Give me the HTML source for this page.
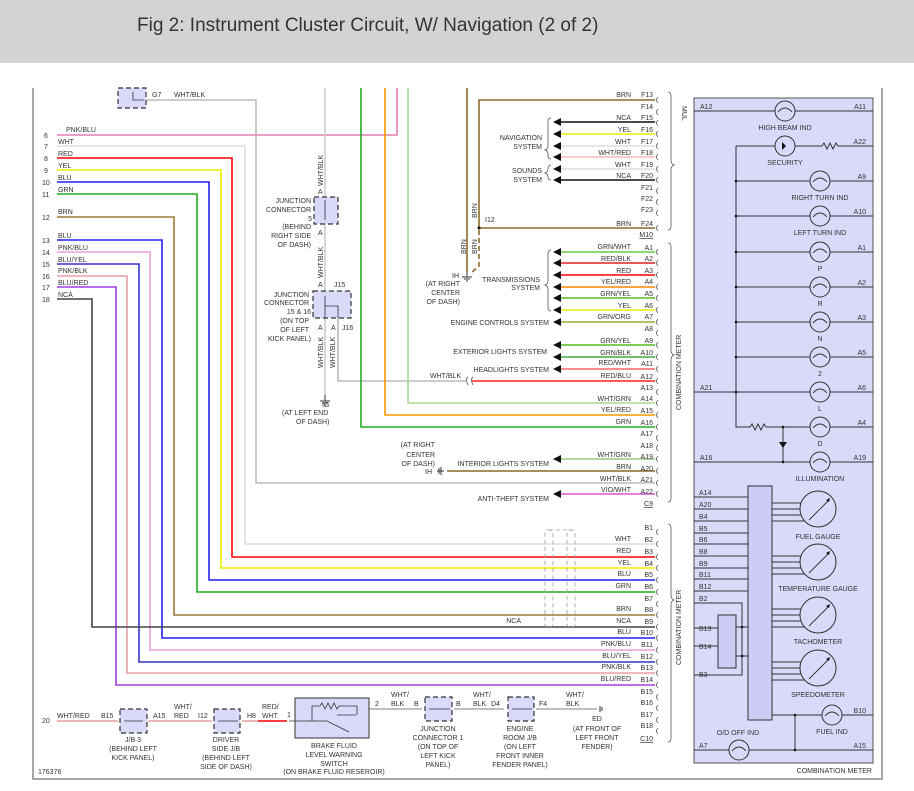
<!DOCTYPE html>
<html><head><meta charset="utf-8"><style>
html,body{margin:0;padding:0;background:#fff}
svg{display:block}
text{font-family:"Liberation Sans",sans-serif;font-size:7px;fill:#333}
.t{font-size:19px;fill:#333}
</style></head><body>
<svg width="914" height="791" viewBox="0 0 914 791" xmlns="http://www.w3.org/2000/svg">
<rect x="0" y="0" width="914" height="63" fill="#d3d3d3"/>
<text class="t" x="137" y="31">Fig 2: Instrument Cluster Circuit, W/ Navigation (2 of 2)</text>
<path d="M33 88V779H882V88" fill="none" stroke="#888" stroke-width="1.5"/>
<rect x="694" y="98" width="179" height="665" fill="#d9d9f9" stroke="#555" stroke-width="1"/>
<g fill="none" stroke-width="1.6">
<path d="M146 100H256V483H655" stroke="#bbb"/>
<path d="M57 135H397V88" stroke="#e87fb0"/>
<path d="M57 146H245V544H655" stroke="#ddd"/>
<path d="M57 158H232V557H655" stroke="#f00"/>
<path d="M57 170H221V568H655" stroke="#ee0"/>
<path d="M57 182H209V580H655" stroke="#22e"/>
<path d="M57 194H197V592H655" stroke="#2a2"/>
<path d="M57 217H174V615H655" stroke="#9a7a3a"/>
<path d="M57 240H162V638H655" stroke="#22e"/>
<path d="M57 252H150V650H655" stroke="#e8a0d8"/>
<path d="M57 264H139V662H655" stroke="#33c"/>
<path d="M57 276H127V673H655" stroke="#e8a0a8"/>
<path d="M57 287H116V685H655" stroke="#a040e0"/>
<path d="M57 299H92V627H655" stroke="#444"/>
<path d="M325 88V395" stroke="#ccc"/>
<path d="M338 318V381H466" stroke="#bbb"/>
<path d="M361 88V427H655" stroke="#2a2"/>
<path d="M385 88V415H655" stroke="#f90"/>
<path d="M408 88V403H655" stroke="#a8d890"/>
<path d="M467 88V272" stroke="#8a6a2a"/>
<path d="M479 228V100H655" stroke="#8a6a2a"/>
<path d="M479 228H655" stroke="#8a6a2a"/>
<path d="M479 230V266L470 274" stroke="#8a6a2a" stroke-dasharray="5,3"/>
<path d="M472 381H655" stroke="#f22"/>
<path d="M447 471H655" stroke="#8a6a2a"/>
<path d="M558 122H655" stroke="#111"/>
<path d="M558 134H655" stroke="#ee0"/>
<path d="M558 146H655" stroke="#ddd"/>
<path d="M558 157H655" stroke="#f4bcbc"/>
<path d="M558 169H655" stroke="#ddd"/>
<path d="M558 180H655" stroke="#111"/>
<path d="M558 252H655" stroke="#6c4"/>
<path d="M558 263H655" stroke="#d22"/>
<path d="M558 275H655" stroke="#f00"/>
<path d="M558 287H655" stroke="#f80"/>
<path d="M558 298H655" stroke="#5b2"/>
<path d="M558 310H655" stroke="#ee0"/>
<path d="M558 322H655" stroke="#9a3"/>
<path d="M558 345H655" stroke="#5b2"/>
<path d="M558 357H655" stroke="#4a4"/>
<path d="M558 369H655" stroke="#f66"/>
<path d="M558 459H655" stroke="#9c8"/>
<path d="M558 494H655" stroke="#d5d"/>
<path d="M57 721H118M148 721H212M242 721H258" stroke="#e8a0a0"/>
<path d="M258 721H287" stroke="#f00"/>
<path d="M356 709H422M454 709H504M536 709H597" stroke="#aaa"/>
</g>
<g fill="#111">
<path d="M553 122l8-4v8zM553 134l8-4v8zM553 146l8-4v8zM553 157l8-4v8zM553 169l8-4v8zM553 180l8-4v8z"/>
<path d="M553 252l8-4v8zM553 263l8-4v8zM553 275l8-4v8zM553 287l8-4v8zM553 298l8-4v8zM553 310l8-4v8zM553 322l8-4v8zM553 345l8-4v8zM553 357l8-4v8zM553 369l8-4v8zM553 459l8-4v8zM553 494l8-4v8z"/>
<circle cx="479" cy="228" r="1.5"/>
</g>
<g fill="none" stroke="#555" stroke-width="0.8">
<path d="M658 97q-3 3 0 6M658 109q-3 3 0 6M658 120q-3 3 0 6M658 131q-3 3 0 6M658 143q-3 3 0 6M658 154q-3 3 0 6M658 166q-3 3 0 6M658 177q-3 3 0 6M658 188q-3 3 0 6M658 199q-3 3 0 6M658 210q-3 3 0 6M658 225q-3 3 0 6"/>
<path d="M658 249q-3 3 0 6M658 260q-3 3 0 6M658 272q-3 3 0 6M658 284q-3 3 0 6M658 295q-3 3 0 6M658 307q-3 3 0 6M658 319q-3 3 0 6M658 330q-3 3 0 6M658 342q-3 3 0 6M658 354q-3 3 0 6M658 366q-3 3 0 6M658 378q-3 3 0 6M658 389q-3 3 0 6M658 400q-3 3 0 6M658 412q-3 3 0 6M658 424q-3 3 0 6M658 435q-3 3 0 6M658 445q-3 3 0 6M658 456q-3 3 0 6M658 468q-3 3 0 6M658 480q-3 3 0 6M658 491q-3 3 0 6"/>
<path d="M658 529q-3 3 0 6M658 541q-3 3 0 6M658 554q-3 3 0 6M658 565q-3 3 0 6M658 577q-3 3 0 6M658 589q-3 3 0 6M658 601q-3 3 0 6M658 612q-3 3 0 6M658 624q-3 3 0 6M658 635q-3 3 0 6M658 647q-3 3 0 6M658 659q-3 3 0 6M658 670q-3 3 0 6M658 682q-3 3 0 6M658 694q-3 3 0 6M658 705q-3 3 0 6M658 717q-3 3 0 6M658 728q-3 3 0 6"/>
<path d="M668 92q3 0 3 4V160q0 4 3 5q-3 1-3 5V226q0 4-3 4"/>
<path d="M668 243q3 0 3 4V350q0 4 3 5q-3 1-3 5V498q0 4-3 4"/>
<path d="M668 524q3 0 3 4V595q0 4 3 5q-3 1-3 5V738q0 4-3 4"/>
<path d="M551 118q-3 0-3 4V146q0 3-3 4q3 1 3 4V156q0 3 3 3"/>
<path d="M551 165q-3 0-3 4q0 3-3 4q3 1 3 4q0 3 3 3"/>
<path d="M551 250q-3 0-3 4V281q0 3-3 4q3 1 3 4V308q0 3 3 3"/>
<path d="M473 377q-3 2 0 8M468 377q-3 2 0 8" />
</g>
<g fill="none" stroke="#999" stroke-width="0.8" stroke-dasharray="4,3">
<rect x="545" y="530" width="8" height="97" rx="3"/>
<rect x="567" y="530" width="8" height="97" rx="3"/>
<path d="M549 530H571"/>
</g>
<g fill="#d9d9f9" stroke="#333" stroke-width="1.2" stroke-dasharray="5,3">
<rect x="118" y="88" width="28" height="20"/>
<rect x="314" y="197" width="24" height="27"/>
<rect x="313" y="291" width="38" height="27"/>
<rect x="120" y="709" width="27" height="24"/>
<rect x="214" y="709" width="26" height="24"/>
<rect x="425" y="697" width="27" height="24"/>
<rect x="508" y="697" width="26" height="24"/>
</g>
<g fill="none" stroke="#333" stroke-width="0.8">
<path d="M133 92V100H144M325 200V220M325 296V318M325 306H338V318M124 721H143M218 721H238M429 709H450M512 709H532"/>
</g>
<rect x="295" y="698" width="74" height="40" fill="#d9d9f9" stroke="#333" stroke-width="1"/>
<g fill="none" stroke="#333" stroke-width="0.8">
<path d="M289 721H312V706H320l2-3 3 6 3-6 3 6 3-6 3 6 2-3H357V715M312 721H327L349 732"/>
<path d="M337 715H356"/>
</g>
<g stroke="#333" stroke-width="1" fill="none">
<path d="M325 395V401M320 401H330M322 403H328M324 405H326"/>
<path d="M467 272V277M462 277H472M464 279H470M466 281H468"/>
<path d="M600 706V712M602 707V711"/>
<path d="M437 471H444M439 468V474M441 467V475"/>
</g>
<g>
<text x="44" y="138">6</text><text x="66" y="132">PNK/BLU</text>
<text x="44" y="149">7</text><text x="58" y="144">WHT</text>
<text x="44" y="161">8</text><text x="58" y="156">RED</text>
<text x="44" y="173">9</text><text x="58" y="168">YEL</text>
<text x="42" y="185">10</text><text x="58" y="180">BLU</text>
<text x="42" y="197">11</text><text x="58" y="192">GRN</text>
<text x="42" y="220">12</text><text x="58" y="214">BRN</text>
<text x="42" y="243">13</text><text x="58" y="238">BLU</text>
<text x="42" y="255">14</text><text x="58" y="250">PNK/BLU</text>
<text x="42" y="267">15</text><text x="58" y="262">BLU/YEL</text>
<text x="42" y="279">16</text><text x="58" y="273">PNK/BLK</text>
<text x="42" y="290">17</text><text x="58" y="285">BLU/RED</text>
<text x="42" y="302">18</text><text x="58" y="297">NCA</text>
<text x="152" y="97">G7</text><text x="174" y="97">WHT/BLK</text>
<g text-anchor="end">
<text x="311" y="203">JUNCTION</text><text x="311" y="212">CONNECTOR</text><text x="312" y="221">5</text>
<text x="311" y="229">(BEHIND</text><text x="311" y="238">RIGHT SIDE</text><text x="311" y="247">OF DASH)</text>
<text x="309" y="297">JUNCTION</text><text x="309" y="305">CONNECTOR</text><text x="311" y="314">15 &amp; 16</text>
<text x="309" y="323">(ON TOP</text><text x="309" y="332">OF LEFT</text><text x="311" y="341">KICK PANEL)</text>
</g>
<text x="318" y="194">A</text><text x="318" y="235">A</text><text x="318" y="287">A</text><text x="318" y="330">A</text><text x="331" y="330">A</text>
<text x="334" y="287">J15</text><text x="342" y="330">J16</text>
<text transform="translate(323 186) rotate(-90)">WHT/BLK</text>
<text transform="translate(323 278) rotate(-90)">WHT/BLK</text>
<text transform="translate(323 368) rotate(-90)">WHT/BLK</text>
<text transform="translate(335 368) rotate(-90)">WHT/BLK</text>
<text x="322" y="407">IG</text>
<text x="282" y="415">(AT LEFT END</text><text x="296" y="424">OF DASH)</text>
<text x="430" y="378">WHT/BLK</text>
<text transform="translate(477 218) rotate(-90)">BRN</text>
<text transform="translate(466 254) rotate(-90)">BRN</text>
<text transform="translate(477 254) rotate(-90)">BRN</text>
<text x="485" y="222">I12</text>
<text x="452" y="278">IH</text>
<g text-anchor="end"><text x="460" y="286">(AT RIGHT</text><text x="460" y="295">CENTER</text><text x="460" y="304">OF DASH)</text>
<text x="435" y="447">(AT RIGHT</text><text x="435" y="457">CENTER</text><text x="435" y="466">OF DASH)</text></g>
<text x="425" y="474">IH</text>
<g text-anchor="end">
<text x="542" y="140">NAVIGATION</text><text x="542" y="149">SYSTEM</text>
<text x="542" y="173">SOUNDS</text><text x="542" y="182">SYSTEM</text>
<text x="540" y="282">TRANSMISSIONS</text><text x="540" y="290">SYSTEM</text>
<text x="549" y="325">ENGINE CONTROLS SYSTEM</text>
<text x="547" y="354">EXTERIOR LIGHTS SYSTEM</text>
<text x="549" y="372">HEADLIGHTS SYSTEM</text>
<text x="549" y="466">INTERIOR LIGHTS SYSTEM</text>
<text x="549" y="501">ANTI-THEFT SYSTEM</text>
</g>
</g>
<g text-anchor="end">
<text x="653" y="97">F13</text><text x="631" y="97">BRN</text>
<text x="653" y="109">F14</text>
<text x="653" y="120">F15</text><text x="631" y="120">NCA</text>
<text x="653" y="132">F16</text><text x="631" y="132">YEL</text>
<text x="653" y="144">F17</text><text x="631" y="144">WHT</text>
<text x="653" y="155">F18</text><text x="631" y="155">WHT/RED</text>
<text x="653" y="167">F19</text><text x="631" y="167">WHT</text>
<text x="653" y="178">F20</text><text x="631" y="178">NCA</text>
<text x="653" y="190">F21</text><text x="653" y="201">F22</text><text x="653" y="212">F23</text>
<text x="653" y="226">F24</text><text x="631" y="226">BRN</text>
<text x="653" y="237" text-decoration="underline">M10</text>
<text x="653" y="250">A1</text><text x="631" y="249">GRN/WHT</text>
<text x="653" y="261">A2</text><text x="631" y="261">RED/BLK</text>
<text x="653" y="273">A3</text><text x="631" y="273">RED</text>
<text x="653" y="284">A4</text><text x="631" y="284">YEL/RED</text>
<text x="653" y="296">A5</text><text x="631" y="296">GRN/YEL</text>
<text x="653" y="308">A6</text><text x="631" y="308">YEL</text>
<text x="653" y="319">A7</text><text x="631" y="319">GRN/ORG</text>
<text x="653" y="331">A8</text>
<text x="653" y="343">A9</text><text x="631" y="343">GRN/YEL</text>
<text x="653" y="355">A10</text><text x="631" y="355">GRN/BLK</text>
<text x="653" y="366">A11</text><text x="631" y="365">RED/WHT</text>
<text x="653" y="379">A12</text><text x="631" y="378">RED/BLU</text>
<text x="653" y="390">A13</text>
<text x="653" y="401">A14</text><text x="631" y="401">WHT/GRN</text>
<text x="653" y="413">A15</text><text x="631" y="412">YEL/RED</text>
<text x="653" y="425">A16</text><text x="631" y="424">GRN</text>
<text x="653" y="436">A17</text><text x="653" y="448">A18</text>
<text x="653" y="459">A19</text><text x="631" y="457">WHT/GRN</text>
<text x="653" y="471">A20</text><text x="631" y="469">BRN</text>
<text x="653" y="482">A21</text><text x="631" y="481">WHT/BLK</text>
<text x="653" y="494">A22</text><text x="631" y="492">VIO/WHT</text>
<text x="653" y="506" text-decoration="underline">C9</text>
<text x="653" y="530">B1</text>
<text x="653" y="542">B2</text><text x="631" y="541">WHT</text>
<text x="653" y="554">B3</text><text x="631" y="553">RED</text>
<text x="653" y="566">B4</text><text x="631" y="565">YEL</text>
<text x="653" y="577">B5</text><text x="631" y="576">BLU</text>
<text x="653" y="589">B6</text><text x="631" y="588">GRN</text>
<text x="653" y="601">B7</text>
<text x="653" y="612">B8</text><text x="631" y="611">BRN</text>
<text x="653" y="624">B9</text><text x="631" y="623">NCA</text><text x="521" y="623">NCA</text>
<text x="653" y="635">B10</text><text x="631" y="634">BLU</text>
<text x="653" y="647">B11</text><text x="631" y="646">PNK/BLU</text>
<text x="653" y="659">B12</text><text x="631" y="658">BLU/YEL</text>
<text x="653" y="670">B13</text><text x="631" y="669">PNK/BLK</text>
<text x="653" y="682">B14</text><text x="631" y="681">BLU/RED</text>
<text x="653" y="694">B15</text><text x="653" y="705">B16</text><text x="653" y="717">B17</text><text x="653" y="728">B18</text>
<text x="653" y="741" text-decoration="underline">C10</text>
</g>
<text transform="translate(682 106) rotate(90)">MUL</text>
<text transform="translate(681 410) rotate(-90)">COMBINATION METER</text>
<text transform="translate(681 665) rotate(-90)">COMBINATION METER</text>
<text x="42" y="723">20</text><text x="57" y="718">WHT/RED</text>
<text x="101" y="718">B15</text><text x="153" y="718">A15</text>
<text x="174" y="709">WHT/</text><text x="174" y="718">RED</text>
<text x="198" y="718">I12</text><text x="247" y="718">H8</text>
<text x="262" y="709">RED/</text><text x="262" y="718">WHT</text>
<text x="287" y="717">1</text><text x="375" y="706">2</text>
<text x="391" y="697">WHT/</text><text x="391" y="706">BLK</text>
<text x="414" y="706">B</text><text x="456" y="706">B</text>
<text x="473" y="697">WHT/</text><text x="473" y="706">BLK</text>
<text x="491" y="706">D4</text><text x="539" y="706">F4</text>
<text x="566" y="697">WHT/</text><text x="566" y="706">BLK</text>
<g text-anchor="middle">
<text x="133" y="742">J/B 3</text><text x="133" y="751">(BEHIND LEFT</text><text x="133" y="760">KICK PANEL)</text>
<text x="226" y="742">DRIVER</text><text x="226" y="751">SIDE J/B</text><text x="226" y="760">(BEHIND LEFT</text><text x="226" y="769">SIDE OF DASH)</text>
<text x="334" y="748">BRAKE FLUID</text><text x="334" y="757">LEVEL WARNING</text><text x="334" y="766">SWITCH</text><text x="334" y="774">(ON BRAKE FLUID RESEROIR)</text>
<text x="438" y="731">JUNCTION</text><text x="438" y="740">CONNECTOR 1</text><text x="438" y="749">(ON TOP OF</text><text x="438" y="758">LEFT KICK</text><text x="438" y="767">PANEL)</text>
<text x="520" y="731">ENGINE</text><text x="520" y="740">ROOM J/B</text><text x="520" y="749">(ON LEFT</text><text x="520" y="758">FRONT INNER</text><text x="520" y="767">FENDER PANEL)</text>
<text x="597" y="721">ED</text><text x="597" y="731">(AT FRONT OF</text><text x="597" y="740">LEFT FRONT</text><text x="597" y="749">FENDER)</text>
</g>
<text x="38" y="774">176376</text>
<g stroke="#333" stroke-width="1" fill="none">
<path d="M694 111H873M736 146H775M795 146H822M822 146l2-3 3 6 3-6 3 6 3-6 2 3H873"/>
<path d="M736 146V427H750l2-3 3 6 3-6 3 6 3-6 2 3H873"/>
<path d="M736 181H873M736 216H873M736 252H873M736 287H873M736 322H873M736 357H873M694 392H873M694 462H873M783 427V462"/>
<path d="M694 497H748M694 509H748M694 521H748M694 533H748M694 544H748M694 556H748M694 568H748M694 579H748M694 591H748"/>
<path d="M694 603H742V675H694M694 628H718M694 646H718M736 627H748M736 656H748"/>
<path d="M772 715H873M694 750H873M795 715V750"/>
<path d="M772 503H805M772 509H805M772 515H805M772 521H805M772 556H805M772 562H805M772 568H805M772 574H805M772 609H805M772 615H805M772 621H805M772 627H805M772 662H805M772 668H805M772 674H805M772 680H805"/>
</g>
<g fill="#d9d9f9" stroke="#333" stroke-width="1">
<circle cx="785" cy="111" r="10"/><circle cx="785" cy="146" r="10"/>
<circle cx="820" cy="181" r="10"/><circle cx="820" cy="216" r="10"/><circle cx="820" cy="252" r="10"/><circle cx="820" cy="287" r="10"/><circle cx="820" cy="322" r="10"/><circle cx="820" cy="357" r="10"/><circle cx="820" cy="392" r="10"/><circle cx="820" cy="427" r="10"/><circle cx="820" cy="462" r="10"/>
<circle cx="832" cy="715" r="10"/><circle cx="739" cy="750" r="10"/>
<rect x="748" y="486" width="24" height="234" fill="#ccccf5"/>
<rect x="718" y="615" width="18" height="53" fill="#ccccf5"/>
<circle cx="818" cy="509" r="18"/><circle cx="818" cy="562" r="18"/><circle cx="818" cy="615" r="18"/><circle cx="818" cy="668" r="18"/>
</g>
<g stroke="#333" stroke-width="0.9" fill="none">
<path d="M809 520L828 501M809 573L828 554M809 626L828 607M809 679L828 660"/>
<path d="M778 112q7-8 14 0M813 182q7-8 14 0M813 217q7-8 14 0M813 253q7-8 14 0M813 288q7-8 14 0M813 323q7-8 14 0M813 358q7-8 14 0M813 393q7-8 14 0M813 428q7-8 14 0M813 463q7-8 14 0M825 716q7-8 14 0M732 751q7-8 14 0"/>
</g>
<g fill="#111"><path d="M826 500l4-2-1 4zM826 553l4-2-1 4zM826 606l4-2-1 4zM826 659l4-2-1 4z"/>
<path d="M779 442h8l-4 6z"/><path d="M782 142v8l4-4z"/>
<circle cx="736" cy="181" r="1.3"/><circle cx="736" cy="216" r="1.3"/><circle cx="736" cy="252" r="1.3"/><circle cx="736" cy="287" r="1.3"/><circle cx="736" cy="322" r="1.3"/><circle cx="736" cy="357" r="1.3"/><circle cx="736" cy="392" r="1.3"/><circle cx="783" cy="427" r="1.3"/><circle cx="783" cy="462" r="1.3"/><circle cx="795" cy="715" r="1.3"/><circle cx="795" cy="750" r="1.3"/><circle cx="742" cy="627" r="1.3"/><circle cx="742" cy="656" r="1.3"/></g>
<g>
<text x="700" y="109">A12</text><text x="866" y="109" text-anchor="end">A11</text>
<text x="785" y="130" text-anchor="middle">HIGH BEAM IND</text>
<text x="866" y="144" text-anchor="end">A22</text><text x="785" y="165" text-anchor="middle">SECURITY</text>
<text x="866" y="179" text-anchor="end">A9</text><text x="820" y="200" text-anchor="middle">RIGHT TURN IND</text>
<text x="866" y="214" text-anchor="end">A10</text><text x="820" y="235" text-anchor="middle">LEFT TURN IND</text>
<text x="866" y="250" text-anchor="end">A1</text><text x="820" y="271" text-anchor="middle">P</text>
<text x="866" y="285" text-anchor="end">A2</text><text x="820" y="306" text-anchor="middle">R</text>
<text x="866" y="320" text-anchor="end">A3</text><text x="820" y="341" text-anchor="middle">N</text>
<text x="866" y="355" text-anchor="end">A5</text><text x="820" y="376" text-anchor="middle">2</text>
<text x="700" y="390">A21</text><text x="866" y="390" text-anchor="end">A6</text><text x="820" y="411" text-anchor="middle">L</text>
<text x="866" y="425" text-anchor="end">A4</text><text x="820" y="446" text-anchor="middle">D</text>
<text x="700" y="460">A16</text><text x="866" y="460" text-anchor="end">A19</text><text x="820" y="481" text-anchor="middle">ILLUMINATION</text>
<text x="699" y="495">A14</text><text x="699" y="507">A20</text><text x="699" y="519">B4</text><text x="699" y="531">B5</text><text x="699" y="542">B6</text><text x="699" y="554">B8</text><text x="699" y="566">B9</text><text x="699" y="577">B11</text><text x="699" y="589">B12</text><text x="699" y="601">B2</text><text x="699" y="631">B13</text><text x="699" y="649">B14</text><text x="699" y="677">B3</text>
<text x="818" y="539" text-anchor="middle">FUEL GAUGE</text>
<text x="818" y="591" text-anchor="middle">TEMPERATURE GAUGE</text>
<text x="818" y="644" text-anchor="middle">TACHOMETER</text>
<text x="818" y="697" text-anchor="middle">SPEEDOMETER</text>
<text x="866" y="713" text-anchor="end">B10</text><text x="832" y="734" text-anchor="middle">FUEL IND</text>
<text x="738" y="735" text-anchor="middle">O/D OFF IND</text>
<text x="699" y="748">A7</text><text x="866" y="748" text-anchor="end">A15</text>
<text x="872" y="773" text-anchor="end">COMBINATION METER</text>
</g>
</svg>
</body></html>
